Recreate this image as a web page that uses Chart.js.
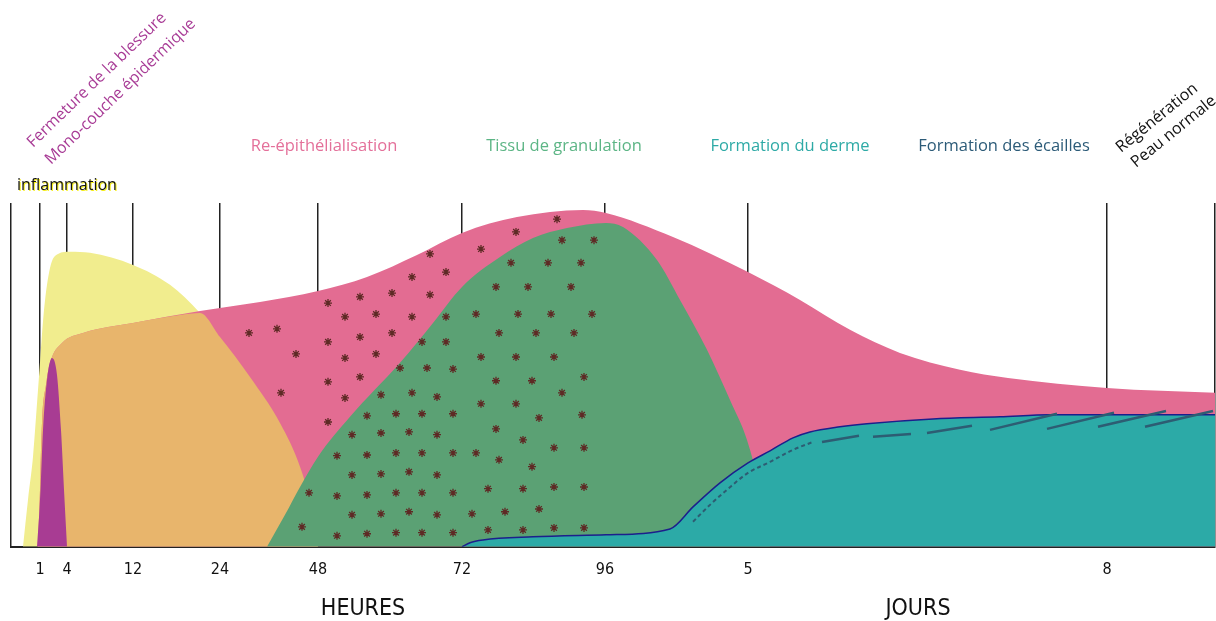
<!DOCTYPE html>
<html>
<head>
<meta charset="utf-8">
<title>Cicatrisation</title>
<script src="https://cdn.jsdelivr.net/npm/chart.js@4.4.1/dist/chart.umd.min.js"></script>
<style>
  body { margin: 0; background: #fff; }
  #wrap { width: 1216px; height: 621px; }
</style>
</head>
<body>
<div id="wrap"><canvas id="chart" width="1216" height="621"></canvas></div>
<script>
// x : position sur l'axe du temps (unités arbitraires), y : intensité (0-100)
var tickPos = [0, 2.9, 5.6, 12.2, 20.9, 30.7, 45.1, 59.4, 73.7, 109.6, 120.4];
var tickLabels = ["", "1", "4", "12", "24", "48", "72", "96", "5", "8", ""];

var inflammation = [
  [1.2, 0], [1.7, 13.7], [2.2, 26.2], [2.7, 45.6], [3.3, 68.9], [3.9, 81.1],
  [4.7, 85.2], [5.9, 85.8], [7.9, 85.5], [12.2, 82.0], [15.9, 76.2], [18.9, 68.0],
  [20.9, 61.0], [23.9, 49.4], [26.9, 36.0], [28.9, 23.3], [30.1, 10.8], [30.7, 0]
];
var reepithelialisation = [
  [2.7, 0], [2.9, 16.6], [3.1, 36.0], [3.5, 47.1], [3.9, 53.5], [5.1, 59.3],
  [7.2, 62.2], [12.2, 65.1], [18.9, 68.6], [24.9, 71.2], [30.7, 74.4], [35.6, 78.5],
  [40.6, 84.9], [45.1, 91.3], [50.6, 95.9], [57.2, 98.0], [59.5, 97.1], [66.2, 90.1],
  [73.7, 79.9], [78.9, 71.8], [83.9, 63.1], [88.9, 56.4], [94.9, 51.5], [99.7, 49.1],
  [109.6, 46.2], [120.4, 44.8]
];
// zone commune inflammation / re-épithélialisation
var overlap = [
  [2.7, 0], [2.9, 16.6], [3.1, 36.0], [3.5, 47.1], [3.9, 53.5], [5.1, 59.3],
  [7.2, 62.2], [12.2, 65.1], [16.9, 67.4], [18.9, 68.0], [20.9, 61.0], [23.9, 49.4],
  [26.9, 36.0], [28.9, 23.3], [30.1, 10.8], [30.7, 0]
];
var granulation = [
  [25.6, 0], [27.4, 9.3], [28.9, 17.4], [30.7, 26.2], [33.9, 37.8], [38.9, 53.5],
  [42.2, 65.1], [45.1, 75.6], [48.9, 84.3], [52.2, 89.8], [55.6, 92.7], [59.5, 94.2],
  [61.2, 93.0], [64.6, 83.4], [66.9, 71.8], [69.6, 57.3], [71.9, 42.7], [73.6, 31.1],
  [74.9, 16.6], [75.9, 0]
];
var derme = [
  [45.1, 0], [45.9, 1.2], [47.2, 2.0], [52.2, 2.9], [59.5, 3.5], [65.9, 5.2],
  [68.2, 11.6], [70.9, 18.6], [73.7, 24.4], [75.9, 27.9], [78.2, 31.7], [79.9, 33.4],
  [82.9, 34.9], [85.6, 35.8], [92.2, 37.2], [98.9, 37.8], [103.9, 38.4], [120.4, 38.4]
];
var fermeture = [
  [2.6, 0], [2.9, 13.7], [3.2, 34.0], [3.6, 48.5], [4.1, 54.9], [4.6, 50.0],
  [5.0, 34.0], [5.3, 16.6], [5.6, 0]
];
var dermePointille = [
  [68.2, 7.3], [69.9, 12.2], [71.6, 16.6], [73.7, 21.5], [75.9, 24.7], [78.2, 28.2], [80.2, 30.5]
];
// tirets longs puis écailles (null = coupure)
var ecailles = [
  [81.1, 30.5], [84.8, 32.3], [84.9, null],
  [86.2, 32.0], [90.0, 32.8], [90.1, null],
  [91.6, 33.1], [96.1, 35.2], [96.2, null],
  [97.9, 34.0], [104.6, 38.7], [104.7, null],
  [103.6, 34.3], [110.3, 39.0], [110.4, null],
  [108.7, 34.9], [115.5, 39.5], [115.6, null],
  [113.4, 34.9], [120.2, 39.5]
];
var asterisks = [
  [23.8, 62.2], [26.6, 63.4], [28.5, 56.1], [27.0, 44.8], [29.8, 15.7], [29.1, 5.8],
  [31.7, 70.9], [34.9, 72.7], [38.1, 73.8], [40.1, 78.5], [41.9, 85.2],
  [33.4, 66.9], [36.5, 67.7], [40.1, 66.9], [41.9, 73.3], [43.5, 79.9],
  [47.0, 86.6], [50.5, 91.6], [54.6, 95.3],
  [31.7, 59.6], [34.9, 61.0], [38.1, 62.2], [43.5, 66.9],
  [33.4, 54.9], [36.5, 56.1], [41.1, 59.6], [43.5, 59.6],
  [31.7, 48.0], [34.9, 49.4], [38.9, 52.0], [41.6, 52.0], [44.2, 51.7],
  [33.4, 43.3], [37.0, 44.2], [40.1, 44.8], [42.6, 43.6],
  [31.7, 36.3], [35.6, 38.1], [38.5, 38.7], [41.1, 38.7], [44.2, 38.7],
  [34.1, 32.6], [37.0, 33.1], [39.8, 33.4], [42.6, 32.6],
  [32.6, 26.5], [35.6, 26.7], [38.5, 27.3], [41.1, 27.3], [44.2, 27.3],
  [34.1, 20.9], [37.0, 21.2], [39.8, 21.8], [42.6, 20.9],
  [32.6, 14.8], [35.6, 15.1], [38.5, 15.7], [41.1, 15.7], [44.2, 15.7],
  [34.1, 9.3], [37.0, 9.6], [39.8, 10.2], [42.6, 9.3],
  [32.6, 3.2], [35.6, 3.8], [38.5, 4.1], [41.1, 4.1], [44.2, 4.1],
  [55.1, 89.2], [58.3, 89.2],
  [50.0, 82.6], [53.7, 82.6], [57.0, 82.6],
  [48.5, 75.6], [51.7, 75.6], [56.0, 75.6],
  [46.5, 67.7], [50.7, 67.7], [54.0, 67.7], [58.1, 67.7],
  [48.8, 62.2], [52.5, 62.2], [56.3, 62.2],
  [47.0, 55.2], [50.5, 55.2], [54.3, 55.2],
  [48.5, 48.3], [52.1, 48.3], [57.3, 49.4], [55.1, 44.8],
  [47.0, 41.6], [50.5, 41.6], [52.8, 37.5], [57.1, 38.4],
  [48.5, 34.3], [51.2, 31.1], [54.3, 28.8], [57.3, 28.8],
  [46.5, 27.3], [48.8, 25.3], [52.1, 23.3],
  [47.7, 16.9], [51.2, 16.9], [54.3, 17.4], [57.3, 17.4],
  [46.1, 9.6], [49.4, 10.2], [52.8, 11.0],
  [47.7, 4.9], [51.2, 4.9], [54.3, 5.5], [57.3, 5.5]
];

function pts(arr) {
  return arr.map(function(p) { return { x: p[0], y: p[1] }; });
}

function area(data, color, extra) {
  var ds = {
    type: "line",
    data: pts(data),
    backgroundColor: color,
    borderColor: color,
    borderWidth: 0,
    pointRadius: 0,
    fill: "origin",
    cubicInterpolationMode: "monotone"
  };
  for (var k in extra) ds[k] = extra[k];
  return ds;
}

// textes de l'illustration
var labelsPlugin = {
  id: "labels",
  afterDraw: function(chart) {
    var ctx = chart.ctx;
    var sans = "'Open Sans', 'Noto Sans', sans-serif";
    var narrow = "'Liberation Sans Narrow', 'DejaVu Sans Condensed', sans-serif";
    ctx.save();
    ctx.textBaseline = "alphabetic";

    ctx.textAlign = "center";
    ctx.font = "16.5px " + sans;
    ctx.fillStyle = "#e4709a";
    ctx.fillText("Re-épithélialisation", 324, 151);
    ctx.fillStyle = "#5cb585";
    ctx.fillText("Tissu de granulation", 564, 151);
    ctx.fillStyle = "#2eaaa6";
    ctx.fillText("Formation du derme", 790, 151);
    ctx.fillStyle = "#2c5b78";
    ctx.fillText("Formation des écailles", 1004, 151);

    ctx.font = "23px " + narrow;
    ctx.fillStyle = "#111";
    ctx.fillText("HEURES", 363, 615);
    ctx.fillText("JOURS", 918, 615);

    ctx.textAlign = "left";
    ctx.font = "16px " + sans;
    ctx.fillStyle = "#f5ee1a";
    ctx.fillText("inflammation", 18, 191);
    ctx.fillStyle = "#111";
    ctx.fillText("inflammation", 17, 190);

    ctx.font = "16px " + sans;
    ctx.fillStyle = "#a83c96";
    var a = -44 * Math.PI / 180;
    ctx.save(); ctx.translate(33, 148); ctx.rotate(a);
    ctx.fillText("Fermeture de la blessure", 0, 0); ctx.restore();
    ctx.save(); ctx.translate(51, 165); ctx.rotate(a);
    ctx.fillText("Mono-couche épidermique", 0, 0); ctx.restore();

    ctx.font = "16px " + sans;
    ctx.fillStyle = "#111";
    var b = -39 * Math.PI / 180;
    ctx.save(); ctx.translate(1121, 153); ctx.rotate(b);
    ctx.fillText("Régénération", 0, 0); ctx.restore();
    ctx.save(); ctx.translate(1136, 168); ctx.rotate(b);
    ctx.fillText("Peau normale", 0, 0); ctx.restore();
    ctx.restore();
  }
};

var ctx = document.getElementById("chart").getContext("2d");
var chart = new Chart(ctx, {
  data: {
    datasets: [
      {
        type: "scatter",
        data: pts(asterisks),
        pointStyle: "star",
        pointRadius: 4,
        borderColor: "#5e2a25",
        backgroundColor: "#5e2a25",
        pointBorderWidth: 1.3
      },
      {
        type: "line",
        data: pts(ecailles),
        borderColor: "#2d5d73",
        borderWidth: 2.5,
        pointRadius: 0,
        spanGaps: false,
        fill: false,
        tension: 0
      },
      {
        type: "line",
        data: pts(dermePointille),
        borderColor: "#2d5d73",
        borderWidth: 2,
        borderDash: [4, 3],
        pointRadius: 0,
        fill: false,
        cubicInterpolationMode: "monotone"
      },
      area(fermeture, "#a83c93"),
      area(derme, "#2caaa7", { borderColor: "#1c1f8c", borderWidth: 1.5 }),
      area(granulation, "#5ba174"),
      area(overlap, "#e8b56c"),
      area(reepithelialisation, "#e36c92"),
      area(inflammation, "#f1ed8e")
    ]
  },
  options: {
    responsive: false,
    animation: false,
    devicePixelRatio: 1,
    layout: { autoPadding: false, padding: { left: 11, right: 1, top: 203, bottom: 29 } },
    plugins: {
      legend: { display: false },
      tooltip: { enabled: false }
    },
    scales: {
      x: {
        type: "linear",
        min: 0,
        max: 120.4,
        z: 1,
        afterBuildTicks: function(scale) {
          scale.ticks = tickPos.map(function(v) { return { value: v }; });
        },
        afterFit: function(scale) {
          scale.paddingLeft = 0;
          scale.paddingRight = 0;
        },
        grid: { color: "#222", lineWidth: 1.5, drawTicks: false },
        border: { color: "#222", width: 2 },
        ticks: {
          autoSkip: false,
          maxRotation: 0,
          padding: 13,
          color: "#111",
          font: { family: "'Liberation Sans Narrow', 'DejaVu Sans Condensed', sans-serif", size: 16 },
          callback: function(value, index) { return tickLabels[index]; }
        }
      },
      y: { type: "linear", min: 0, max: 100, display: false }
    }
  },
  plugins: [labelsPlugin]
});
</script>
</body>
</html>
